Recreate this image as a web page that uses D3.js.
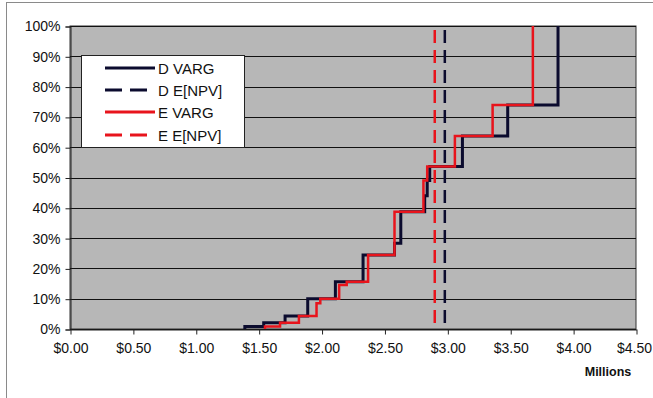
<!DOCTYPE html>
<html>
<head>
<meta charset="utf-8">
<script src="https://d3js.org/d3.v7.min.js"></script>
<style>
  body { margin: 0; background: #fff; }
  svg { display: block; font-family: "Liberation Sans", Arial, sans-serif; }
</style>
</head>
<body>
<div id="chart"></div>
<script>
// step points: x value ($M) where the curve jumps, and cumulative % after the jump
const dJumps = [1.39, 1.54, 1.71, 1.89, 2.11, 2.33, 2.58, 2.63, 2.82, 2.84, 2.86, 3.12, 3.48, 3.88];
const dLevels = [0.8, 2.1, 4.3, 10, 15.6, 24.4, 28.3, 38.7, 44, 49, 53.6, 63.7, 73.9, 100];

const eJumps = [1.55, 1.67, 1.82, 1.96, 1.99, 2.14, 2.20, 2.37, 2.58, 2.81, 2.84, 3.06, 3.36, 3.68];
const eLevels = [0.8, 2.1, 4.3, 8.5, 10, 14.5, 15.6, 24.4, 38.7, 49, 53.6, 63.7, 73.9, 100];

// expected NPV markers
const dMean = 2.98;
const eMean = 2.90;

const xTicks = [0, 0.5, 1, 1.5, 2, 2.5, 3, 3.5, 4, 4.5];
const yTicks = [0, 10, 20, 30, 40, 50, 60, 70, 80, 90, 100];

const legendItems = [
  { name: 'D VARG', color: '#0b0b2e', dash: null },
  { name: 'D E[NPV]', color: '#0b0b2e', dash: '17,8' },
  { name: 'E VARG', color: '#e8141c', dash: null },
  { name: 'E E[NPV]', color: '#e8141c', dash: '17,8' }
];

const width = 653, height = 398;
const plot = { left: 70, right: 636, top: 26, bottom: 329 };

const svg = d3.select('#chart').append('svg')
  .attr('width', width)
  .attr('height', height);

// outer chart frame
svg.append('rect')
  .attr('x', 6.5).attr('y', 2.5)
  .attr('width', width + 10).attr('height', height + 10)
  .attr('fill', '#fff')
  .attr('stroke', '#8a8a8a');

const x = d3.scaleLinear().domain([0, 4.5]).range([plot.left, plot.right]);
const y = d3.scaleLinear().domain([0, 100]).range([plot.bottom, plot.top]);

// gray plot area
svg.append('rect')
  .attr('x', plot.left).attr('y', plot.top)
  .attr('width', plot.right - plot.left)
  .attr('height', plot.bottom - plot.top)
  .attr('fill', '#b7b7b7')
  .attr('stroke', '#333')
  .attr('stroke-width', 1);

// horizontal gridlines
svg.append('g')
  .selectAll('line')
  .data(yTicks)
  .enter()
  .append('line')
  .attr('x1', plot.left).attr('x2', plot.right)
  .attr('y1', d => Math.round(y(d)) + 0.5)
  .attr('y2', d => Math.round(y(d)) + 0.5)
  .attr('stroke', '#111')
  .attr('stroke-width', 1);

// y axis
const yAxis = d3.axisLeft(y)
  .tickValues(yTicks)
  .tickSize(5)
  .tickPadding(5)
  .tickFormat(d => d + '%');

svg.append('g')
  .attr('transform', `translate(${plot.left + 0.5},0.5)`)
  .call(yAxis)
  .call(g => g.select('.domain').attr('stroke', '#222'))
  .call(g => g.selectAll('.tick line').attr('stroke', '#222'))
  .call(g => g.selectAll('.tick text')
    .attr('font-size', 14)
    .attr('font-family', '"Liberation Sans", Arial, sans-serif')
    .attr('fill', '#111'));

// x axis
const xAxis = d3.axisBottom(x)
  .tickValues(xTicks)
  .tickSize(5)
  .tickSizeOuter(0)
  .tickPadding(9)
  .tickFormat(d => '$' + d.toFixed(2));

svg.append('g')
  .attr('transform', `translate(0.5,${plot.bottom + 0.5})`)
  .call(xAxis)
  .call(g => g.select('.domain').attr('stroke', '#222'))
  .call(g => g.selectAll('.tick line').attr('stroke', '#222'))
  .call(g => g.selectAll('.tick text')
    .attr('font-size', 14)
    .attr('font-family', '"Liberation Sans", Arial, sans-serif')
    .attr('fill', '#111'))
  // last label sits against the right edge, as in the original
  .call(g => g.selectAll('.tick text')
    .filter(d => d === 4.5)
    .attr('text-anchor', 'end')
    .attr('x', 652 - plot.right - 1));

svg.append('text')
  .attr('x', 608).attr('y', 376)
  .attr('text-anchor', 'middle')
  .attr('font-size', 12.5)
  .attr('font-weight', 'bold')
  .attr('fill', '#111')
  .text('Millions');

// build step series
function stepPoints(jumps, levels) {
  const pts = [{ v: jumps[0], p: 0 }];
  jumps.forEach((j, i) => pts.push({ v: j, p: levels[i] }));
  return pts;
}

const stepLine = d3.line()
  .x(d => x(d.v))
  .y(d => y(d.p))
  .curve(d3.curveStepAfter);

// E[NPV] dashed verticals
[{ v: dMean, c: legendItems[1].color }, { v: eMean, c: legendItems[3].color }].forEach(m => {
  svg.append('line')
    .attr('x1', x(m.v)).attr('x2', x(m.v))
    .attr('y1', plot.top + 4).attr('y2', plot.bottom)
    .attr('stroke', m.c)
    .attr('stroke-width', 2.5)
    .attr('stroke-dasharray', '13,7');
});

svg.append('path')
  .datum(stepPoints(dJumps, dLevels))
  .attr('d', stepLine)
  .attr('fill', 'none')
  .attr('stroke', legendItems[0].color)
  .attr('stroke-width', 3);

svg.append('path')
  .datum(stepPoints(eJumps, eLevels))
  .attr('d', stepLine)
  .attr('fill', 'none')
  .attr('stroke', legendItems[2].color)
  .attr('stroke-width', 2.5);

// legend
const legend = svg.append('g');
legend.append('rect')
  .attr('x', 81.5).attr('y', 55.5)
  .attr('width', 163).attr('height', 92)
  .attr('fill', '#fff')
  .attr('stroke', '#222');

const rowY = [68, 90, 112, 135];
legendItems.forEach((item, i) => {
  legend.append('line')
    .attr('x1', 105).attr('x2', 155)
    .attr('y1', rowY[i]).attr('y2', rowY[i])
    .attr('stroke', item.color)
    .attr('stroke-width', 3)
    .attr('stroke-dasharray', item.dash);
  legend.append('text')
    .attr('x', 158).attr('y', rowY[i] + 5.5)
    .attr('font-size', 15)
    .attr('fill', '#111')
    .text(item.name);
});
</script>
</body>
</html>
